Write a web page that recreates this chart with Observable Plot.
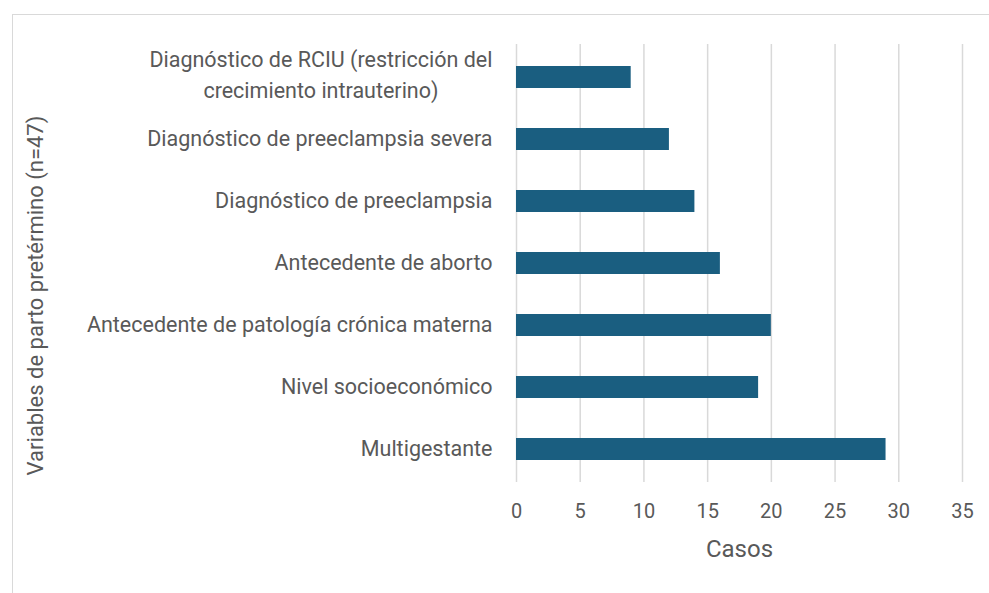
<!DOCTYPE html>
<html><head><meta charset="utf-8">
<script src="https://cdn.jsdelivr.net/npm/d3@7"></script>
<script src="https://cdn.jsdelivr.net/npm/@observablehq/plot@0.6"></script>
<style>
html,body{margin:0;padding:0;background:#fff;}
#wrap{position:relative;width:989px;height:593px;overflow:hidden;}
#frame{position:absolute;left:12px;top:14px;width:1000px;height:600px;border:1.5px solid #d9d9d9;box-sizing:border-box;}
#chart{position:absolute;left:0;top:0;}
</style></head>
<body><div id="wrap"><div id="frame"></div><div id="chart"></div></div>
<script>
const categories = [
  "Diagnóstico de RCIU (restricción del\ncrecimiento intrauterino)",
  "Diagnóstico de preeclampsia severa",
  "Diagnóstico de preeclampsia",
  "Antecedente de aborto",
  "Antecedente de patología crónica materna",
  "Nivel socioeconómico",
  "Multigestante"
];
const values = [9, 12, 14, 16, 20, 19, 29];
const xTicks = [0, 5, 10, 15, 20, 25, 30, 35];
const xTitle = "Casos";
const yTitle = "Variables de parto pretérmino (n=47)";

const data = categories.map((c, i) => ({cat: c, val: values[i]}));
const font = "Roboto, 'Liberation Sans', sans-serif";
const labelSize = 21.5;
const labelPad = 24;

// measure wrapped labels so their lines can be centred on each other
const ctx = document.createElement("canvas").getContext("2d");
ctx.font = `${labelSize}px Roboto`;
const single = data.filter(d => !d.cat.includes("\n"));
const multi = data.filter(d => d.cat.includes("\n")).map(d => ({
  ...d,
  w: Math.max(...d.cat.split("\n").map(s => ctx.measureText(s).width))
}));

const chart = Plot.plot({
  width: 989,
  height: 593,
  marginLeft: 516,
  marginRight: 27,
  marginTop: 44,
  marginBottom: 111,
  style: {fontFamily: font, background: "transparent", color: "#595959"},
  x: {domain: [0, 35], ticks: xTicks},
  y: {domain: categories, paddingInner: 0.65, paddingOuter: 0.33, align: 0.5, axis: null},
  marks: [
    Plot.gridX(xTicks, {stroke: "#d9d9d9", strokeOpacity: 1, strokeWidth: 1.5}),
    Plot.barX(data, {x: "val", y: "cat", fill: "#1a5e80"}),
    Plot.axisX({ticks: xTicks, tickSize: 0, tickPadding: 21, fontSize: 20, fill: "#595959", label: null}),
    Plot.text(single, {y: "cat", text: "cat", frameAnchor: "left", textAnchor: "end", lineAnchor: "middle", dx: -labelPad, fontSize: labelSize, fill: "#595959"}),
    ...multi.map(d => Plot.text([d], {y: "cat", text: "cat", frameAnchor: "left", textAnchor: "middle", lineAnchor: "middle", lineHeight: 1.44, dx: -labelPad - d.w / 2, dy: -5, fontSize: labelSize, fill: "#595959"})),
    Plot.text([xTitle], {frameAnchor: "bottom", lineAnchor: "middle", dy: 67, fontSize: 24, fill: "#595959"}),
    Plot.text([yTitle], {frameAnchor: "left", textAnchor: "middle", lineAnchor: "middle", rotate: -90, dx: -481, dy: 32, fontSize: 22, fill: "#595959"})
  ]
});
document.getElementById("chart").appendChild(chart);
</script></body></html>
